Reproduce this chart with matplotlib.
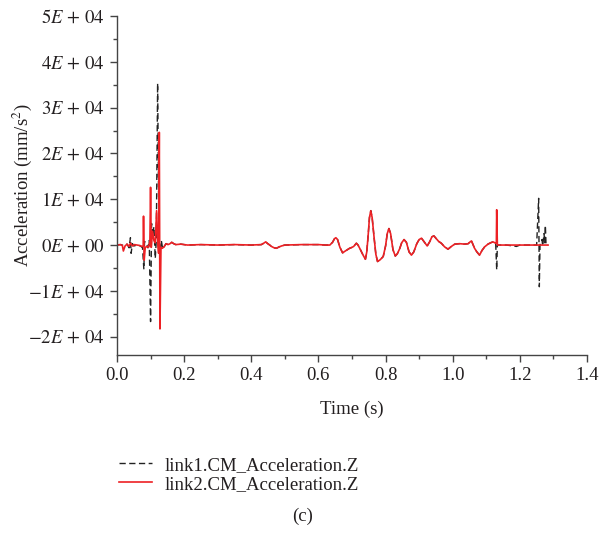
import numpy as np
import matplotlib
matplotlib.use("Agg")
import matplotlib.pyplot as plt
from matplotlib.ticker import MultipleLocator, FuncFormatter

plt.rcParams['font.family'] = ['Liberation Serif', 'DejaVu Serif']
plt.rcParams['mathtext.fontset'] = 'stix'

# early part (t < 0.14 s), link1 = black dashed
t1_early = [0.000, 0.010, 0.020, 0.030, 0.036, 0.040, 0.042, 0.046, 0.050, 0.060,
            0.070, 0.076, 0.080, 0.082, 0.086, 0.092, 0.096, 0.100, 0.103, 0.106,
            0.110, 0.114, 0.117, 0.121, 0.125, 0.128, 0.132, 0.136]
a1_early = [0, 100, -100, 200, -600, 1600, -1800, 300, -200, 0,
            -200, -600, -5300, 800, 300, -600, 1000, -16700, 4700, 2000,
            4000, -2900, 1000, 35300, 800, -2000, 1000, -800]

# early part, link2 = red
t2_early = [0.000, 0.010, 0.016, 0.019, 0.024, 0.030, 0.036, 0.040, 0.046, 0.052,
            0.060, 0.068, 0.074, 0.078, 0.079, 0.081, 0.084, 0.088, 0.094, 0.098,
            0.100, 0.102, 0.106, 0.110, 0.114, 0.118, 0.121, 0.124, 0.126, 0.128,
            0.131, 0.135]
a2_early = [0, 100, -100, -1300, -200, 200, -300, 400, -200, 100,
            0, -100, -300, -200, 6300, -3300, -600, -300, -500, 800,
            12600, -500, 3000, 1000, 500, 7500, 1000, -1800, 24600, -18300,
            -500, -700]

# middle part shared by both curves
t_mid = [0.140, 0.146, 0.152, 0.158, 0.163, 0.169, 0.175, 0.190, 0.210, 0.250,
         0.300, 0.350, 0.400, 0.430, 0.437, 0.443, 0.449, 0.455, 0.460, 0.468,
         0.475, 0.483, 0.490, 0.500, 0.550, 0.600, 0.620, 0.634, 0.642, 0.648,
         0.652, 0.657, 0.664, 0.672, 0.680, 0.693, 0.700, 0.705, 0.713, 0.718,
         0.725, 0.733, 0.740, 0.744, 0.748, 0.752, 0.756, 0.760, 0.766, 0.771,
         0.776, 0.784, 0.793, 0.800, 0.805, 0.810, 0.815, 0.822, 0.829, 0.835,
         0.842, 0.848, 0.855, 0.862, 0.870, 0.877, 0.884, 0.893, 0.900, 0.907,
         0.915, 0.924, 0.932, 0.938, 0.944, 0.950, 0.958, 0.966, 0.976, 0.986,
         0.996, 1.006, 1.020, 1.036, 1.046, 1.052, 1.056, 1.060, 1.065, 1.072,
         1.080, 1.087, 1.095, 1.105, 1.113, 1.120, 1.128]
a_mid = [-400, 300, 100, 300, 600, 300, 100, 200, 0, 100,
         0, 100, 0, 100, 400, 700, 300, 0, -300, -600,
         -700, -400, -200, 0, 100, 100, 0, 0, 600, 1400,
         1600, 1200, -500, -1700, -1300, -700, -500, -300, 400, 0,
         -1000, -2200, -3100, -1500, 2000, 6000, 7500, 6000, 1500, -2000,
         -3600, -3200, -2500, -200, 2500, 3600, 2500, -1000, -2400, -1900,
         -800, 500, 1200, 600, -1500, -2200, -1500, 300, 1200, 1500,
         700, -200, 800, 1800, 2000, 1500, 800, 400, -400, -900,
         -300, 200, 300, 200, 300, 700, 900, 200, -700, -1500,
         -2200, -1200, -400, 200, 500, 700, 400]

# late part, link1
t1_late = [1.131, 1.133, 1.160, 1.190, 1.200, 1.250, 1.256, 1.258, 1.260, 1.266,
           1.268, 1.272, 1.274, 1.276, 1.278, 1.284]
a1_late = [-5400, 0, 0, -300, 0, 0, 10200, -9100, 0, 1200,
           -200, 2500, 500, 4300, 0, 0]

# late part, link2
t2_late = [1.130, 1.131, 1.133, 1.200, 1.284]
a2_late = [400, 7700, 0, 0, 0]

t1 = np.array(t1_early + t_mid + t1_late)
a1 = np.array(a1_early + a_mid + a1_late)
t2 = np.array(t2_early + t_mid + t2_late)
a2 = np.array(a2_early + a_mid + a2_late)

fig = plt.figure(figsize=(6.02, 5.35), dpi=100)
ax = fig.add_axes([117/602, 1-355/535, (587-117)/602, (355-16)/535])

ax.plot(t1, a1, color='#222222', lw=1.0, dashes=(4.5, 2.5),
        label='link1.CM_Acceleration.Z')
ax.plot(t2, a2, color='#ed2024', lw=1.2, label='link2.CM_Acceleration.Z')

ax.set_xlim(0, 1.4)
ax.set_ylim(-2.4e4, 5e4)
ax.xaxis.set_major_locator(MultipleLocator(0.2))
ax.xaxis.set_minor_locator(MultipleLocator(0.1))
ax.yaxis.set_major_locator(MultipleLocator(1e4))
ax.yaxis.set_minor_locator(MultipleLocator(5e3))
ax.xaxis.set_major_formatter(FuncFormatter(lambda v, p: '%.1f' % v))


def efmt(v, p):
    n = int(round(v / 1e4))
    if n == 0:
        return r'$0E\,+\,00$'
    return r'$%dE\,+\,04$' % n


ax.yaxis.set_major_formatter(FuncFormatter(efmt))

for s in ['top', 'right']:
    ax.spines[s].set_visible(False)
for s in ['left', 'bottom']:
    ax.spines[s].set_color('#444444')
    ax.spines[s].set_linewidth(1.0)
ax.tick_params(which='major', direction='out', length=5, width=1.0,
               colors='#444444', labelcolor='#231f20', labelsize=13.5)
ax.tick_params(which='minor', direction='out', length=3, width=1.0,
               colors='#444444')

ax.set_xlabel('Time (s)', fontsize=13.5, color='#231f20', labelpad=12)
ax.set_ylabel(r'Acceleration (mm/s$^2$)', fontsize=13.5, color='#231f20',
              labelpad=-4)

fig.legend(loc='upper left', bbox_to_anchor=(102/602, 1-440/535),
           frameon=False, fontsize=13.5, handlelength=1.75, handletextpad=0.7,
           labelspacing=0.1, labelcolor='#231f20')

fig.text(0.502, 1-516/535, '(c)', ha='center', va='center', fontsize=13.5,
         color='#231f20')

fig.savefig('out.png', dpi=100)
